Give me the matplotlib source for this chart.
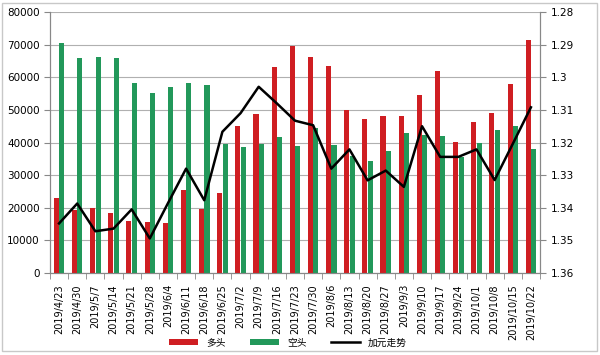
import numpy as np
import matplotlib
matplotlib.use("Agg")
import matplotlib.pyplot as plt

plt.rcParams['font.family'] = ['DejaVu Sans', 'Noto Sans CJK SC']

# data
dates = ["2019/4/23", "2019/4/30", "2019/5/7", "2019/5/14", "2019/5/21", "2019/5/28",
         "2019/6/4", "2019/6/11", "2019/6/18", "2019/6/25", "2019/7/2", "2019/7/9",
         "2019/7/16", "2019/7/23", "2019/7/30", "2019/8/6", "2019/8/13", "2019/8/20",
         "2019/8/27", "2019/9/3", "2019/9/10", "2019/9/17", "2019/9/24", "2019/10/1",
         "2019/10/8", "2019/10/15", "2019/10/22"]
long_pos = [23000, 19200, 20000, 18300, 16000, 15600, 15200, 25500, 19700, 24600,
            45200, 48700, 63200, 69700, 66300, 63500, 49900, 47200, 48100, 48100,
            54700, 62000, 40100, 46200, 49000, 57900, 71300]
short_pos = [70600, 66000, 66200, 66000, 58400, 55300, 57100, 58400, 57700, 39500,
             38600, 39500, 41800, 38800, 44400, 39200, 35800, 34200, 37300, 42800,
             42300, 42100, 35600, 39900, 43700, 45000, 37900]
cad = [1.3448, 1.3387, 1.3472, 1.3464, 1.3405, 1.3494, 1.3386, 1.3280, 1.3377, 1.3167,
       1.3110, 1.3029, 1.3080, 1.3133, 1.3147, 1.3280, 1.3221, 1.3316, 1.3286, 1.3336,
       1.3150, 1.3244, 1.3244, 1.3221, 1.3315, 1.3204, 1.3092]

red = '#cf1e22'
green = '#22985a'

fig = plt.figure(figsize=(6, 3.55), dpi=100)
ax = fig.add_axes([0.0833, 0.231, 0.8167, 0.735])
x = np.arange(len(dates))
w = 0.28
b1 = ax.bar(x - 0.15, long_pos, w, color=red, label='多头', zorder=3)
b2 = ax.bar(x + 0.15, short_pos, w, color=green, label='空头', zorder=3)
ax.set_ylim(0, 80000)
ax.set_yticks(np.arange(0, 80001, 10000))
ax.set_xlim(-0.5, len(dates) - 0.5)
ax.grid(axis='y', color='#b0b0b0', linewidth=0.8, zorder=0)
ax.set_xticks(x)
ax.set_xticklabels(dates, rotation=90, fontsize=7)
ax.set_xticks(np.arange(-0.5, len(dates)), minor=True)
ax.tick_params(axis='x', which='major', length=0, pad=8)
ax.tick_params(axis='x', which='minor', length=4, color='#888888')
ax.tick_params(axis='y', labelsize=7.5, length=4, color='#888888')
for s in ['left', 'right', 'bottom']:
    ax.spines[s].set_color('#888888')
ax.spines['top'].set_visible(False)

ax2 = ax.twinx()
l1, = ax2.plot(x, cad, color='black', linewidth=1.8, label='加元走势', zorder=4)
ax2.set_ylim(1.36, 1.28)
ax2.set_yticks([1.28, 1.29, 1.30, 1.31, 1.32, 1.33, 1.34, 1.35, 1.36])
ax2.set_yticklabels(['1.28', '1.29', '1.3', '1.31', '1.32', '1.33', '1.34', '1.35', '1.36'])
ax2.tick_params(axis='y', labelsize=7.5, length=4, color='#888888')
for s in ['left', 'right', 'bottom']:
    ax2.spines[s].set_color('#888888')
ax2.spines['top'].set_visible(False)

fig.legend(handles=[b1, b2, l1], loc='center', bbox_to_anchor=(0.48, 0.035), ncol=3,
           frameon=False, fontsize=7, handlelength=3, handleheight=0.6, columnspacing=2.5)

fig.patches.append(plt.Rectangle((0.003, 0.012), 0.992, 0.98, transform=fig.transFigure,
                                 fill=False, edgecolor='#c8c8c8', linewidth=1))

fig.savefig('out.png', dpi=100)
